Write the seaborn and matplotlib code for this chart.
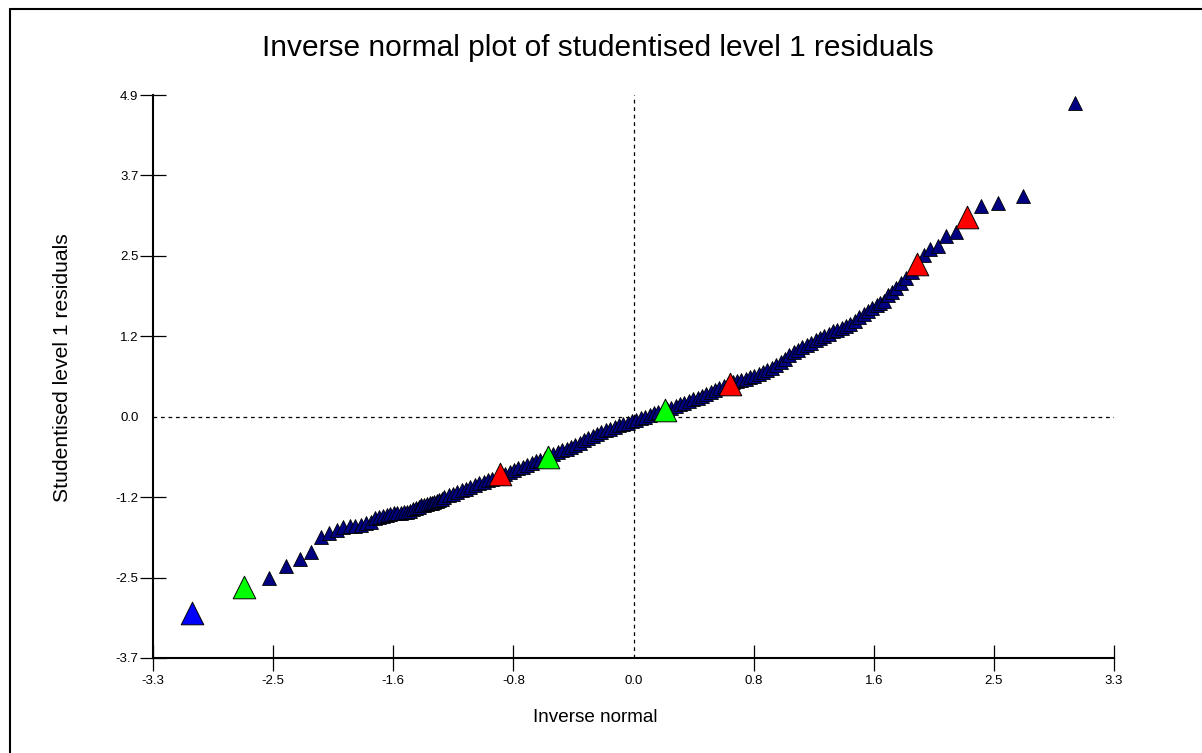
import matplotlib
matplotlib.use("Agg")
import matplotlib.pyplot as plt
from matplotlib.lines import Line2D
import seaborn as sns
import pandas as pd

sns.set_style("ticks")
plt.rcParams["font.family"] = ["Liberation Sans", "DejaVu Sans"]
plt.rcParams["text.color"] = "black"

# Inverse normal scores (x) and sorted studentised residuals (y)
lower_x = [-2.506, -2.385, -2.292, -2.214, -2.148, -2.090, -2.039, -1.992, -1.950, -1.911,
           -1.874, -1.839, -1.806, -1.776, -1.748, -1.721, -1.694, -1.669, -1.645, -1.621,
           -1.598, -1.576, -1.555, -1.534, -1.514, -1.494, -1.475, -1.456, -1.438, -1.420,
           -1.400, -1.384, -1.367, -1.350, -1.333, -1.317]
lower_y = [-2.46, -2.27, -2.17, -2.06, -1.83, -1.77, -1.73, -1.68, -1.665, -1.66,
           -1.645, -1.625, -1.60, -1.55, -1.525, -1.511, -1.495, -1.481, -1.472, -1.465,
           -1.460, -1.455, -1.449, -1.43, -1.405, -1.39, -1.37, -1.352, -1.34, -1.33,
           -1.32, -1.313, -1.30, -1.285, -1.27, -1.25]

mid_x = [-1.30, -1.27, -1.24, -1.21, -1.18, -1.15, -1.12, -1.09, -1.06, -1.03,
         -1.00, -0.97, -0.94, -0.91, -0.88, -0.85, -0.82, -0.79, -0.76, -0.73,
         -0.70, -0.67, -0.64, -0.61, -0.58, -0.55, -0.52, -0.49, -0.46, -0.43,
         -0.40, -0.37, -0.34, -0.31, -0.28, -0.25, -0.22, -0.19, -0.16, -0.13,
         -0.10, -0.07, -0.04, -0.01, 0.02, 0.05, 0.08, 0.11, 0.14, 0.17,
         0.20, 0.23, 0.26, 0.29, 0.32, 0.35, 0.38, 0.41, 0.44, 0.47,
         0.50, 0.53, 0.56, 0.59, 0.62, 0.65, 0.68, 0.71, 0.74, 0.77,
         0.80, 0.83, 0.86, 0.89, 0.92, 0.95, 0.98, 1.01, 1.04, 1.07,
         1.10, 1.13, 1.16, 1.19, 1.22, 1.25, 1.28, 1.31, 1.34, 1.37,
         1.40, 1.43, 1.46, 1.49, 1.52, 1.55, 1.58, 1.61, 1.64]
mid_y = [-1.230, -1.197, -1.172, -1.147, -1.122, -1.096, -1.068, -1.041, -1.013, -0.991,
         -0.970, -0.948, -0.927, -0.902, -0.873, -0.844, -0.815, -0.788, -0.761, -0.735,
         -0.708, -0.682, -0.657, -0.631, -0.604, -0.574, -0.544, -0.514, -0.485, -0.455,
         -0.425, -0.393, -0.361, -0.329, -0.297, -0.265, -0.235, -0.207, -0.180, -0.153,
         -0.128, -0.109, -0.089, -0.069, -0.047, -0.022, 0.003, 0.028, 0.049, 0.070,
         0.090, 0.115, 0.140, 0.165, 0.190, 0.215, 0.240, 0.266, 0.291, 0.319,
         0.350, 0.381, 0.412, 0.443, 0.474, 0.505, 0.529, 0.546, 0.564, 0.581,
         0.599, 0.620, 0.650, 0.680, 0.710, 0.740, 0.785, 0.834, 0.884, 0.934,
         0.982, 1.019, 1.056, 1.092, 1.129, 1.164, 1.197, 1.231, 1.264, 1.298,
         1.325, 1.353, 1.380, 1.410, 1.461, 1.513, 1.563, 1.610, 1.656]

upper_x = [1.669, 1.694, 1.721, 1.748, 1.776, 1.806, 1.839, 1.874, 1.911, 1.992,
           2.039, 2.090, 2.148, 2.214, 2.385, 2.506, 2.675, 3.030]
upper_y = [1.70, 1.73, 1.77, 1.85, 1.90, 1.96, 2.03, 2.11, 2.20, 2.46,
           2.55, 2.60, 2.75, 2.81, 3.21, 3.25, 3.36, 4.78]

# Highlighted units
blue_x, blue_y = [-3.03], [-2.99]
green_x, green_y = [-2.675, -0.587, 0.213], [-2.60, -0.61, 0.10]
red_x, red_y = [-0.92, 0.663, 1.947, 2.29], [-0.88, 0.504, 2.32, 3.04]

x_ticks = [-3.3, -2.475, -1.65, -0.825, 0.0, 0.825, 1.65, 2.475, 3.3]
x_tick_labels = ["-3.3", "-2.5", "-1.6", "-0.8", "0.0", "0.8", "1.6", "2.5", "3.3"]
y_ticks = [-3.675, -2.45, -1.225, 0.0, 1.225, 2.45, 3.675, 4.9]
y_tick_labels = ["-3.7", "-2.5", "-1.2", "0.0", "1.2", "2.5", "3.7", "4.9"]

points = pd.DataFrame({"normal": lower_x + mid_x + upper_x,
                       "resid": lower_y + mid_y + upper_y})

fig = plt.figure(figsize=(12.02, 7.53), dpi=100)
ax = fig.add_axes([153 / 1202, 1 - 658 / 753, (1114 - 153) / 1202, (658 - 95) / 753])

ax.axhline(0, color="black", lw=0.9, ls=(0, (3, 3)), zorder=1)
ax.axvline(0, color="black", lw=0.9, ls=(0, (3, 3)), zorder=1)

sns.scatterplot(data=points, x="normal", y="resid", marker="^", s=100,
                color="#000080", edgecolor="black", linewidth=0.6, ax=ax, zorder=3)
for hx, hy, col in [(blue_x, blue_y, "#0000ff"), (green_x, green_y, "#00ff00"),
                    (red_x, red_y, "#ff0000")]:
    sns.scatterplot(x=hx, y=hy, marker="^", s=265, color=col,
                    edgecolor="black", linewidth=0.7, ax=ax, zorder=4)

ax.set_xlim(-3.3, 3.3)
ax.set_ylim(-3.675, 4.9)
ax.set_xticks(x_ticks)
ax.set_xticklabels(x_tick_labels)
ax.set_yticks(y_ticks)
ax.set_yticklabels(y_tick_labels)
ax.tick_params(direction="inout", length=19, width=0.9, labelsize=9.5, pad=1,
               colors="black")
ax.tick_params(axis="x", pad=3)

# The zero ticks are covered by the dashed reference lines
for tick in ax.xaxis.get_major_ticks()[4:5] + ax.yaxis.get_major_ticks()[3:4]:
    tick.tick1line.set_visible(False)

for side in ("top", "right"):
    ax.spines[side].set_visible(False)
for side in ("left", "bottom"):
    ax.spines[side].set_linewidth(1.5)
    ax.spines[side].set_color("black")

ax.set_xlabel("")
ax.set_ylabel("")
fig.text(0.4975, 1 - 48 / 753, "Inverse normal plot of studentised level 1 residuals",
         ha="center", va="center", fontsize=21.5, color="black")
fig.text(595 / 1202, 1 - 718 / 753, "Inverse normal", ha="center", va="center",
         fontsize=13.6, color="black")
fig.text(63 / 1202, 1 - 368 / 753, "Studentised level 1 residuals", ha="center", va="center",
         rotation=90, fontsize=15.2, color="black")

# Window frame on the top and left edges
fig.add_artist(Line2D([10 / 1202, 1.0], [1 - 8.5 / 753] * 2, color="black", lw=1.5,
                      transform=fig.transFigure))
fig.add_artist(Line2D([10 / 1202] * 2, [0.0, 1 - 8.5 / 753], color="black", lw=1.5,
                      transform=fig.transFigure))

fig.savefig("out.png", dpi=100)
